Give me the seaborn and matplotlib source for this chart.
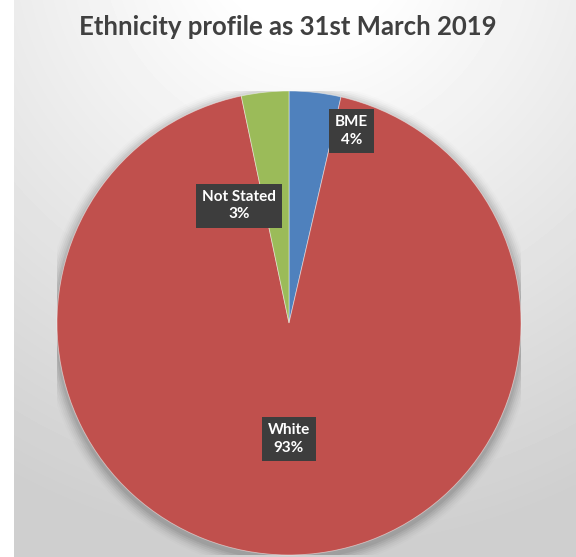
import numpy as np
import matplotlib
matplotlib.use("Agg")
import matplotlib.pyplot as plt
import seaborn as sns

# Data
categories = ["BME", "White", "Not Stated"]
shares = [3.6, 93.1, 3.3]
shown_pct = ["4%", "93%", "3%"]

sns.set_theme(style="white")
plt.rcParams["font.family"] = ["Lato", "DejaVu Sans"]

colors = sns.color_palette(["#4F81BD", "#C0504D", "#9BBB59"])

fig = plt.figure(figsize=(5.76, 5.57), dpi=100)
fig.patch.set_facecolor("white")

# gradient backdrop (white at the top, light grey towards the bottom)
bg = fig.add_axes([14 / 576, 0, 1 - 14 / 576, 1])
h, w = 557, 562
yy, xx = np.mgrid[0:h, 0:w]
d = np.sqrt(((xx - w * 0.52) / w) ** 2 + ((yy + 60) / h) ** 2)
d = np.clip((d - 0.15) / 0.95, 0, 1)
grad = 1.0 - 0.19 * d
bg.imshow(grad, cmap="gray", vmin=0, vmax=1, aspect="auto", interpolation="bilinear")
bg.axis("off")

ax = fig.add_axes([57 / 576, 2 / 557, 464 / 576, 464 / 557])
ax.set_aspect("equal")

# soft shadow under the pie
for i, a in enumerate(np.linspace(0.06, 0.01, 7)):
    ax.add_patch(plt.Circle((0.0, -0.015), 1.0 + 0.008 * (i + 1), color="black",
                            alpha=a, lw=0, zorder=0))

wedges, _ = ax.pie(shares, colors=colors, startangle=90, counterclock=False,
                   radius=1.0, wedgeprops=dict(linewidth=0.6, edgecolor=(1, 1, 1, 0.5)))
for wdg in wedges:
    wdg.set_zorder(2)

# label placement (radius fraction, angle in degrees)
label_pos = {"BME": (0.87, 72), "White": (0.50, 270), "Not Stated": (0.55, 113)}
for name, pct in zip(categories, shown_pct):
    r, ang = label_pos[name]
    x, y = r * np.cos(np.radians(ang)), r * np.sin(np.radians(ang))
    ax.text(x, y, f"{name}\n{pct}", ha="center", va="center", color="white",
            fontsize=11, fontweight="bold", linespacing=1.35, zorder=5,
            bbox=dict(boxstyle="square,pad=0.4", fc="#3d3d3d", ec="none"))

ax.set_xlim(-1, 1)
ax.set_ylim(-1, 1)
ax.axis("off")

fig.text(0.5, 0.952, "Ethnicity profile as 31st March 2019", ha="center", va="center",
         fontsize=18.5, fontweight="bold", color="#404040")

fig.savefig("out.png", dpi=100)
